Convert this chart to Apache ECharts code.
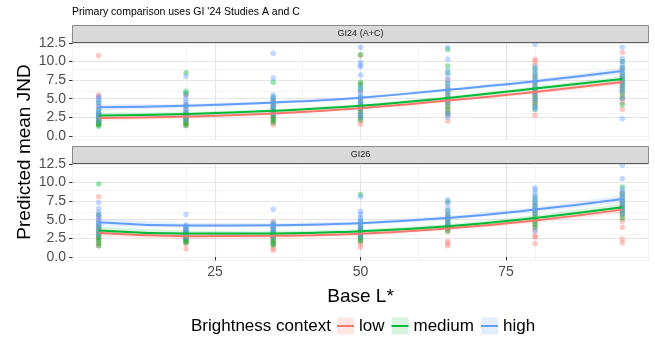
<!DOCTYPE html>
<html>
<head>
<meta charset="utf-8">
<script src="https://cdn.jsdelivr.net/npm/echarts@6/dist/echarts.min.js"></script>
<style>
html,body{margin:0;padding:0;background:#ffffff;}
#chart{width:655px;height:337px;}
</style>
</head>
<body>
<div id="chart"></div>
<script>
// ---------------- DATA ----------------
const baseL = [5, 20, 35, 50, 65, 80, 95];
const groupNames = ['low', 'medium', 'high'];
const panelLabels = ['GI24 (A+C)', 'GI26'];
const titleText = "Primary comparison uses GI '24 Studies A and C";
const yTickValues = [0, 2.5, 5, 7.5, 10, 12.5];
const yMinorValues = [1.25, 3.75, 6.25, 8.75, 11.25];
const xTickValues = [25, 50, 75];
const xMinorValues = [12.5, 37.5, 62.5, 87.5];

// GI24 (A+C) points, one list per Base L* value
const gi24PointsLow = [
  [10.8, 5.5, 5.2, 4.0, 3.0, 2.6, 2.3, 2.0, 1.8, 1.6, 1.5],
  [5.5, 4.2, 3.5, 3.0, 2.6, 2.3, 2.0, 1.8, 1.6, 1.4],
  [4.8, 4.2, 3.8, 3.4, 3.0, 2.7, 2.4, 2.1, 1.8, 1.5],
  [10.8, 7.0, 6.0, 5.0, 4.5, 4.0, 3.6, 3.2, 2.8, 2.4, 2.0, 1.6],
  [7.5, 6.5, 5.8, 5.2, 4.8, 4.4, 4.0, 3.6, 3.2, 2.8, 2.0],
  [10.3, 10.0, 9.5, 8.0, 7.0, 6.3, 5.8, 5.4, 5.0, 4.6, 4.2, 2.8],
  [11.2, 9.0, 8.0, 7.5, 7.0, 6.5, 6.0, 5.5, 5.0, 4.5, 3.6]
];
const gi24PointsMedium = [
  [4.5, 3.5, 3.0, 2.8, 2.5, 2.2, 2.0, 1.7, 1.5, 1.3],
  [8.5, 6.0, 5.7, 4.0, 3.2, 2.8, 2.5, 2.2, 1.9, 1.6, 1.4],
  [7.2, 5.2, 4.6, 4.2, 3.8, 3.4, 3.0, 2.7, 2.4, 2.1, 1.8],
  [10.9, 7.2, 6.8, 6.3, 5.2, 4.6, 4.1, 3.7, 3.3, 2.9, 2.5, 2.2],
  [11.6, 9.4, 8.5, 7.0, 6.2, 5.6, 5.0, 4.5, 4.0, 3.5, 3.0],
  [9.0, 8.4, 7.8, 7.2, 6.6, 6.0, 5.5, 5.0, 4.5, 4.0, 3.6],
  [10.0, 9.2, 8.5, 8.0, 7.6, 7.2, 6.8, 6.3, 5.8, 5.2, 4.2]
];
const gi24PointsHigh = [
  [5.3, 5.0, 4.8, 4.4, 4.0, 3.6, 3.2, 3.0, 2.7, 2.4, 2.0],
  [8.0, 5.5, 5.0, 4.6, 4.3, 4.0, 3.7, 3.3, 3.0, 2.7, 2.2],
  [11.1, 7.8, 5.5, 5.2, 4.9, 4.6, 4.3, 4.0, 3.7, 3.3, 3.0],
  [11.9, 9.9, 9.5, 9.3, 8.2, 6.5, 6.0, 5.6, 5.2, 4.8, 4.5, 4.2, 3.8, 3.0, 2.5],
  [11.9, 10.3, 8.8, 8.2, 7.6, 7.0, 6.5, 6.0, 5.5, 5.0, 4.5, 3.0, 2.5],
  [12.3, 9.3, 8.8, 8.3, 7.8, 7.3, 6.8, 6.3, 5.8, 5.3, 4.8, 4.0, 3.6],
  [11.9, 10.4, 10.0, 9.6, 9.2, 8.8, 8.4, 8.0, 7.5, 7.0, 6.5, 6.0, 5.0, 2.3]
];

// GI26 points
const gi26PointsLow = [
  [8.1, 5.5, 5.0, 4.2, 3.8, 3.4, 3.0, 2.6, 2.2, 1.8, 1.5],
  [3.6, 3.2, 3.0, 2.8, 2.6, 2.4, 2.2, 2.0, 1.8, 1.1],
  [4.8, 3.8, 3.2, 2.8, 2.5, 2.2, 1.9, 1.6, 1.2, 0.9],
  [4.0, 3.6, 3.3, 3.0, 2.7, 2.4, 2.1, 1.8, 1.3],
  [5.5, 5.0, 4.5, 4.1, 3.7, 3.4, 2.1, 1.8, 1.5],
  [7.0, 6.2, 5.6, 5.0, 4.5, 4.0, 3.5, 2.8, 2.7, 1.8],
  [8.5, 7.5, 7.0, 6.6, 6.2, 5.8, 5.3, 4.8, 4.0, 2.4, 1.9]
];
const gi26PointsMedium = [
  [9.8, 5.7, 4.5, 4.0, 3.6, 3.2, 2.9, 2.6, 2.3, 1.9, 1.5],
  [4.0, 3.6, 3.3, 3.1, 2.9, 2.7, 2.5, 2.3, 2.1, 1.9],
  [4.4, 4.0, 3.6, 3.3, 3.0, 2.7, 2.4, 2.1, 1.8, 1.6],
  [8.4, 4.8, 4.3, 3.9, 3.6, 3.3, 3.0, 2.7, 2.4, 2.1],
  [7.4, 6.2, 5.6, 5.1, 4.7, 4.3, 3.9, 3.5],
  [8.0, 7.4, 6.8, 6.3, 5.8, 5.3, 4.8, 4.4, 4.0],
  [9.4, 8.6, 8.0, 7.5, 7.0, 6.6, 6.2, 5.8, 5.2]
];
const gi26PointsHigh = [
  [7.3, 6.5, 6.0, 5.5, 5.2, 4.9, 4.6, 4.3, 4.0, 3.5, 3.0],
  [5.7, 4.3, 4.1, 3.9, 3.7, 3.5, 3.3, 3.1, 2.9, 2.6],
  [6.4, 4.6, 4.4, 4.2, 4.0, 3.8, 3.6, 3.3, 3.0, 2.7],
  [8.1, 6.1, 5.7, 5.3, 5.0, 4.7, 4.4, 4.1, 3.8, 3.4, 2.8],
  [7.7, 7.2, 6.6, 6.1, 5.7, 5.3, 4.9, 4.5, 4.1],
  [9.3, 9.0, 8.6, 8.2, 7.8, 7.4, 7.0, 6.6, 6.2, 5.8, 3.5],
  [12.3, 10.5, 9.1, 8.7, 8.3, 7.9, 7.5, 7.1, 6.7, 6.3, 5.8]
];

// Fitted curves and confidence bands (read at each Base L*)
const gi24FitLow    = [2.40, 2.62, 3.03, 3.74, 4.75, 5.92, 7.25];
const gi24FitMedium = [2.75, 2.95, 3.38, 4.05, 5.10, 6.38, 7.65];
const gi24FitHigh   = [3.87, 4.05, 4.49, 5.15, 6.20, 7.34, 8.72];
const gi24LowerLow    = [2.00, 2.34, 2.81, 3.54, 4.53, 5.64, 6.85];
const gi24UpperLow    = [2.80, 2.90, 3.25, 3.94, 4.97, 6.20, 7.65];
const gi24LowerMedium = [2.35, 2.67, 3.16, 3.85, 4.88, 6.10, 7.25];
const gi24UpperMedium = [3.15, 3.23, 3.60, 4.25, 5.32, 6.66, 8.05];
const gi24LowerHigh   = [3.47, 3.77, 4.27, 4.95, 5.98, 7.06, 8.32];
const gi24UpperHigh   = [4.27, 4.33, 4.71, 5.35, 6.42, 7.62, 9.12];

const gi26FitLow    = [3.25, 2.80, 2.85, 3.12, 3.83, 4.90, 6.36];
const gi26FitMedium = [3.56, 3.16, 3.16, 3.47, 4.14, 5.25, 6.67];
const gi26FitHigh   = [4.67, 4.23, 4.27, 4.54, 5.25, 6.36, 7.79];
const gi26LowerLow    = [2.75, 2.45, 2.57, 2.87, 3.55, 4.55, 5.86];
const gi26UpperLow    = [3.75, 3.15, 3.13, 3.37, 4.11, 5.25, 6.86];
const gi26LowerMedium = [3.06, 2.81, 2.88, 3.22, 3.86, 4.90, 6.17];
const gi26UpperMedium = [4.06, 3.51, 3.44, 3.72, 4.42, 5.60, 7.17];
const gi26LowerHigh   = [4.17, 3.88, 3.99, 4.29, 4.97, 6.01, 7.29];
const gi26UpperHigh   = [5.17, 4.58, 4.55, 4.79, 5.53, 6.71, 8.29];

// ---------------- BUILD ----------------
const FONT = '"Liberation Sans", Arial, Helvetica, sans-serif';
const colors = ['#F8766D', '#00BA38', '#619CFF'];
const tints = ['rgba(248,118,109,0.18)', 'rgba(0,186,56,0.16)', 'rgba(97,156,255,0.18)'];

const panels = [
  { points: [gi24PointsLow, gi24PointsMedium, gi24PointsHigh],
    fit: [gi24FitLow, gi24FitMedium, gi24FitHigh],
    lower: [gi24LowerLow, gi24LowerMedium, gi24LowerHigh],
    upper: [gi24UpperLow, gi24UpperMedium, gi24UpperHigh] },
  { points: [gi26PointsLow, gi26PointsMedium, gi26PointsHigh],
    fit: [gi26FitLow, gi26FitMedium, gi26FitHigh],
    lower: [gi26LowerLow, gi26LowerMedium, gi26LowerHigh],
    upper: [gi26UpperLow, gi26UpperMedium, gi26UpperHigh] }
];

const Y_MIN = -0.47, Y_MAX = 12.55, X_MIN = 0.5, X_MAX = 99.5;
const gridTops = [42.5, 163.5];
const GRID_H = 97;
const GRID_LEFT = 72.5, GRID_RIGHT = 6.5;

const grids = gridTops.map(t => ({
  left: GRID_LEFT, right: GRID_RIGHT, top: t, height: GRID_H,
  show: true, borderColor: '#8a8a8a', borderWidth: 1, backgroundColor: '#ffffff'
}));

const xAxes = [], yAxes = [];
panels.forEach((p, pi) => {
  const isBottom = pi === panels.length - 1;
  xAxes.push({
    type: 'value', gridIndex: pi, min: X_MIN, max: X_MAX,
    axisLine: { show: false },
    axisTick: { show: isBottom, customValues: xTickValues, length: 3.5, lineStyle: { color: '#333333', width: 1 } },
    axisLabel: { show: isBottom, customValues: xTickValues, margin: 5, fontSize: 14, color: '#4D4D4D', fontFamily: FONT },
    splitLine: { show: true, customValues: xTickValues, lineStyle: { color: '#E6E6E6', width: 1.2 } },
    name: isBottom ? 'Base L*' : '',
    nameLocation: 'middle', nameGap: 27,
    nameTextStyle: { fontSize: 19, color: '#000000', fontFamily: FONT }
  });
  yAxes.push({
    type: 'value', gridIndex: pi, min: Y_MIN, max: Y_MAX,
    axisLine: { show: false },
    axisTick: { show: true, customValues: yTickValues, length: 3.5, lineStyle: { color: '#333333', width: 1 } },
    axisLabel: { show: true, customValues: yTickValues, margin: 6.5, fontSize: 14, color: '#4D4D4D', fontFamily: FONT,
      formatter: v => Number(v).toFixed(1) },
    splitLine: { show: true, customValues: yTickValues, lineStyle: { color: '#E6E6E6', width: 1.2 } }
  });
});
// minor gridline axes
panels.forEach((p, pi) => {
  xAxes.push({
    type: 'value', gridIndex: pi, min: X_MIN, max: X_MAX,
    axisLine: { show: false }, axisTick: { show: false }, axisLabel: { show: false },
    splitLine: { show: true, customValues: xMinorValues, lineStyle: { color: '#F3F3F3', width: 1 } }
  });
  yAxes.push({
    type: 'value', gridIndex: pi, min: Y_MIN, max: Y_MAX,
    axisLine: { show: false }, axisTick: { show: false }, axisLabel: { show: false },
    splitLine: { show: true, customValues: yMinorValues, lineStyle: { color: '#F3F3F3', width: 1 } }
  });
});

const series = [];
// points
panels.forEach((p, pi) => {
  groupNames.forEach((g, gi) => {
    const pts = [];
    p.points[gi].forEach((vals, xi) => vals.forEach(v => pts.push([baseL[xi], v])));
    series.push({
      type: 'scatter', name: g, xAxisIndex: pi, yAxisIndex: pi, data: pts,
      symbol: 'circle', symbolSize: 5.5, silent: true, z: 3,
      itemStyle: { color: colors[gi], opacity: 0.4 }
    });
  });
});
// confidence ribbons
panels.forEach((p, pi) => {
  groupNames.forEach((g, gi) => {
    const lo = p.lower[gi], hi = p.upper[gi];
    series.push({
      type: 'custom', name: g, xAxisIndex: pi, yAxisIndex: pi, silent: true, z: 4,
      data: baseL.map((x, i) => [x, lo[i], hi[i]]),
      encode: { x: 0, y: [1, 2] },
      renderItem: function (params, api) {
        if (params.dataIndex !== 0) return null;
        const top = baseL.map((x, i) => api.coord([x, hi[i]]));
        const bot = baseL.map((x, i) => api.coord([x, lo[i]])).reverse();
        return { type: 'polygon', shape: { points: top.concat(bot) },
                 style: { fill: colors[gi], opacity: 0.15 } };
      }
    });
  });
});
// fitted lines
panels.forEach((p, pi) => {
  groupNames.forEach((g, gi) => {
    series.push({
      type: 'line', name: g, xAxisIndex: pi, yAxisIndex: pi, silent: true, z: 5,
      data: baseL.map((x, i) => [x, p.fit[gi][i]]),
      smooth: true, showSymbol: false, symbol: 'none',
      lineStyle: { color: colors[gi], width: 2 }, itemStyle: { color: colors[gi] }
    });
  });
});

const linePath = 'path://M0,0L17,0L17,0.001Z M0,7.5L17,7.5L17,9.5L0,9.5Z M0,17L17,17L17,16.999Z';
const legendCommon = {
  orient: 'horizontal', left: 337, top: 317.5, itemWidth: 17, itemHeight: 17, itemGap: 7,
  selectedMode: false, padding: 0
};

const graphics = [];
panels.forEach((p, pi) => {
  const top = gridTops[pi] - 17;
  graphics.push({
    type: 'rect', shape: { x: GRID_LEFT, y: top, width: 655 - GRID_LEFT - GRID_RIGHT, height: 17 },
    style: { fill: '#D9D9D9', stroke: '#8a8a8a', lineWidth: 1 }, z: 10
  });
  graphics.push({
    type: 'line', shape: { x1: GRID_LEFT, y1: gridTops[pi], x2: 655 - GRID_RIGHT, y2: gridTops[pi] },
    style: { stroke: '#5a5a5a', lineWidth: 1 }, z: 11
  });
  graphics.push({
    type: 'text', x: (GRID_LEFT + 655 - GRID_RIGHT) / 2, y: top + 8.5, z: 12,
    style: { text: panelLabels[pi], font: '9px ' + FONT, fill: '#1A1A1A', align: 'center', verticalAlign: 'middle' }
  });
});
graphics.push({
  type: 'text', x: 25, y: 152, rotation: Math.PI / 2, z: 12,
  style: { text: 'Predicted mean JND', font: '19px ' + FONT, fill: '#000000', align: 'center', verticalAlign: 'middle' }
});
graphics.push({
  type: 'text', x: 191, y: 326, z: 12,
  style: { text: 'Brightness context', font: '17px ' + FONT, fill: '#000000', align: 'left', verticalAlign: 'middle' }
});

const option = {
  animation: false,
  backgroundColor: '#ffffff',
  title: {
    text: titleText, left: 72, top: 7, padding: 0,
    textStyle: { fontSize: 10.5, fontWeight: 'normal', color: '#000000', fontFamily: FONT }
  },
  grid: grids,
  xAxis: xAxes,
  yAxis: yAxes,
  legend: [
    Object.assign({}, legendCommon, {
      z: 1,
      textStyle: { fontSize: 17, color: 'rgba(0,0,0,0)', fontFamily: FONT },
      data: groupNames.map((g, i) => ({ name: g, icon: 'rect',
        itemStyle: { color: tints[i], opacity: 1, borderWidth: 0 } }))
    }),
    Object.assign({}, legendCommon, {
      z: 2,
      textStyle: { fontSize: 17, color: '#000000', fontFamily: FONT },
      data: groupNames.map((g, i) => ({ name: g, icon: linePath,
        itemStyle: { color: colors[i], opacity: 1, borderWidth: 0 } }))
    })
  ],
  graphic: graphics,
  series: series
};

const chart = echarts.init(document.getElementById('chart'), null, { renderer: 'canvas' });
chart.setOption(option);
</script>
</body>
</html>
